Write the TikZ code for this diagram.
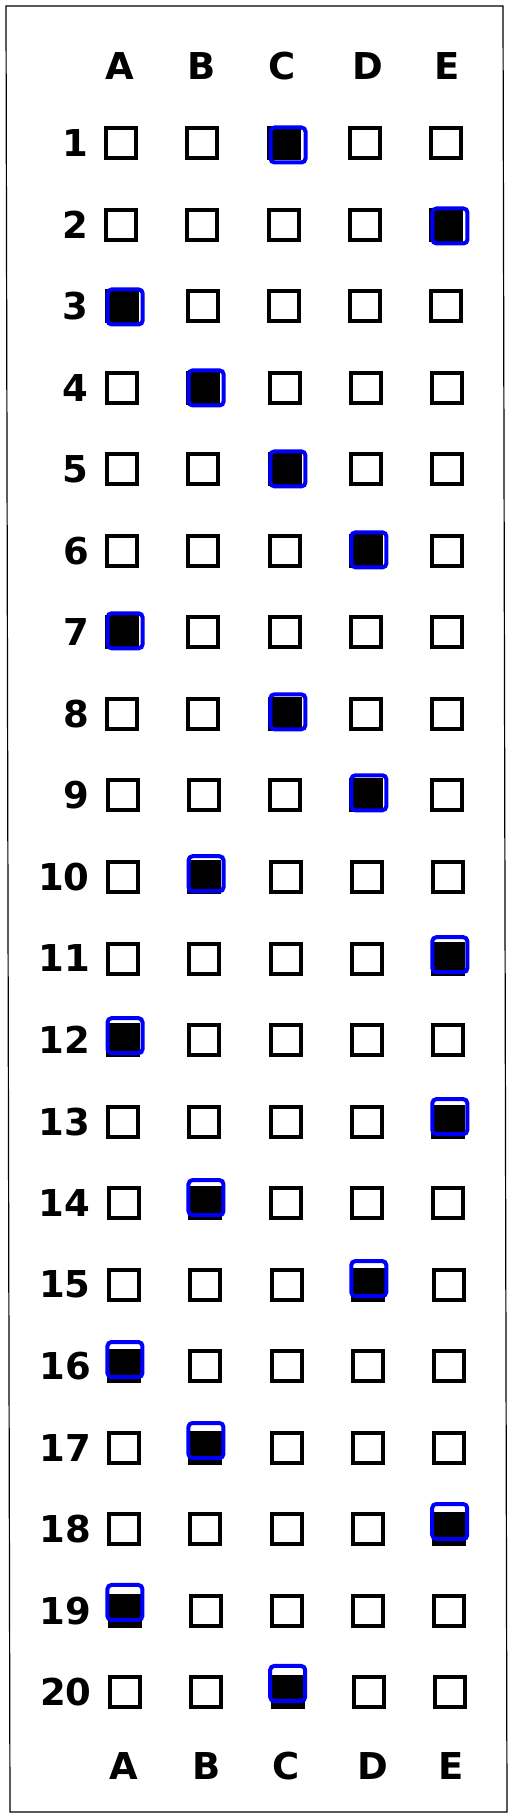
\documentclass[tikz,border=0pt]{standalone}
\usepackage{fontspec}
\newfontfamily\lblfont{DejaVu Sans}
\definecolor{ringblue}{RGB}{0,0,250}
\begin{document}
\begin{tikzpicture}[x=1pt,y=-1pt,
  box/.style={draw=black, line width=4pt, minimum size=30pt, inner sep=0pt, outer sep=0pt},
  markfill/.style={fill=black, minimum size=34pt, inner sep=0pt, outer sep=0pt},
  ring/.style={draw=ringblue, line width=4pt, rounded corners=4pt, minimum size=35pt, inner sep=0pt, outer sep=0pt},
  ringbg/.style={fill=white, rounded corners=4pt, minimum size=35pt, inner sep=0pt, outer sep=0pt},
  lbl/.style={font=\lblfont\bfseries\fontsize{37}{37}\selectfont, inner sep=0pt, outer sep=0pt}]
\useasboundingbox (0,0) rectangle (513,1819);
\fill[white] (0,0) rectangle (513,1819);
\draw[line width=1.2pt] (6,6) -- (503,6) -- (507,1812) -- (10,1812) -- cycle;
\foreach \L/\tx/\bx in {A/120/124, B/202/206.7, C/282.5/286, D/368/372.5, E/446.7/451} {
  \node[lbl] (top\L) at (\tx,66) {\L};
  \node[lbl] (bot\L) at (\bx,1766) {\L};
}
\foreach \ans [count=\r] in {3,5,1,2,3,4,1,3,4,2,5,1,5,2,4,1,2,5,1,3} {
  \pgfmathsetmacro\ry{143+(\r-1)*81.55}
  \pgfmathsetmacro\sk{3.5*(\r-1)/19}
  \pgfmathsetmacro\mdx{4-0.2*(\r-1)}
  \pgfmathsetmacro\mdy{2-0.58*(\r-1)}
  \node[lbl, anchor=east] (n\r) at ({88+\sk},\ry) {\r};
  \foreach \cx [count=\c] in {121.2,202.2,284,365,446} {
    \ifnum\c=\ans
      \node[ringbg] (rb\r) at ({\cx+\sk+\mdx},{\ry+\mdy}) {};
      \node[markfill] (m\r) at ({\cx+\sk},\ry) {};
      \node[ring] (r\r) at ({\cx+\sk+\mdx},{\ry+\mdy}) {};
    \else
      \node[box] (b\r-\c) at ({\cx+\sk},\ry) {};
    \fi
  }
}
\end{tikzpicture}
\end{document}
